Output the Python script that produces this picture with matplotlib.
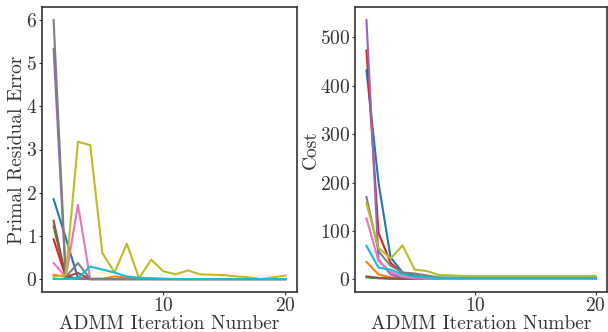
import numpy as np
import matplotlib.pyplot as plt

plt.rcParams['font.family'] = 'serif'
plt.rcParams['font.serif'] = ['cmr10']
plt.rcParams['mathtext.fontset'] = 'cm'
plt.rcParams['axes.formatter.use_mathtext'] = True

iters = np.arange(1, 21)

# primal residual error per agent, 10 runs (tab10 order)
residual = [
    [1.85, 0.95, 0.02, 0, 0, 0, 0, 0, 0, 0, 0, 0, 0, 0, 0, 0, 0, 0, 0, 0],                  # blue
    [0.1, 0.05, 0.01, 0.01, 0.01, 0.06, 0.03, 0.01, 0, 0, 0, 0, 0, 0, 0, 0, 0, 0, 0, 0],      # orange
    [1.22, 0.05, 0.01, 0, 0, 0, 0, 0, 0, 0, 0, 0, 0, 0, 0, 0, 0, 0, 0, 0],                   # green
    [0.92, 0.05, 0.01, 0, 0, 0, 0, 0, 0, 0, 0, 0, 0, 0, 0, 0, 0, 0, 0, 0],                   # red
    [5.33, 0.02, 0, 0, 0, 0, 0, 0, 0, 0, 0, 0, 0, 0, 0, 0, 0, 0, 0, 0],                      # purple
    [1.35, 0.05, 0.14, 0, 0, 0, 0, 0, 0, 0, 0, 0, 0, 0, 0, 0, 0, 0, 0, 0],                   # brown
    [0.37, 0.05, 1.72, 0, 0, 0, 0, 0, 0, 0, 0, 0, 0, 0, 0, 0, 0, 0, 0, 0],                   # pink
    [6.0, 0.05, 0.37, 0, 0, 0, 0, 0, 0, 0, 0, 0, 0, 0, 0, 0, 0, 0, 0, 0],                    # gray
    [0.05, 0.1, 3.18, 3.1, 0.6, 0.15, 0.82, 0.02, 0.45, 0.18, 0.11, 0.2, 0.11, 0.1, 0.09,
     0.06, 0.04, 0.0, 0.04, 0.08],                                                           # olive
    [0.0, 0.0, 0.02, 0.29, 0.22, 0.15, 0.06, 0.03, 0.02, 0.01, 0, 0, 0, 0, 0, 0, 0, 0, 0, 0],  # cyan
]

# total cost per run
cost = [
    [432, 200, 45, 14, 8, 4, 3, 3, 3, 3, 3, 3, 3, 3, 3, 3, 3, 3, 3, 3],
    [36, 10, 4, 2, 1, 1, 1, 1, 1, 1, 1, 1, 1, 1, 1, 1, 1, 1, 1, 1],
    [4, 2, 1, 1, 1, 1, 1, 1, 1, 1, 1, 1, 1, 1, 1, 1, 1, 1, 1, 1],
    [473, 96, 34, 12, 4, 3, 2, 2, 2, 2, 2, 2, 2, 2, 2, 2, 2, 2, 2, 2],
    [536, 41, 10, 3, 2, 1, 1, 1, 1, 1, 1, 1, 1, 1, 1, 1, 1, 1, 1, 1],
    [6, 3, 2, 1, 1, 1, 1, 1, 1, 1, 1, 1, 1, 1, 1, 1, 1, 1, 1, 1],
    [126, 38, 15, 5, 2, 1, 1, 0.5, 0.5, 0.5, 0.5, 0.5, 0.5, 0.5, 0.5, 0.5, 0.5, 0.5, 0.5, 0.5],
    [170, 58, 28, 14, 12, 8, 4, 3, 3, 3, 3, 3, 3, 3, 3, 3, 3, 3, 3, 3],
    [157, 65, 43, 70, 20, 17, 9, 8, 7, 7, 7, 7, 7, 7, 7, 7, 7, 7, 7, 7],
    [69, 24, 20, 10, 6, 4, 3, 3, 3, 3, 3, 3, 3, 3, 3, 3, 3, 3, 3, 3],
]

fig = plt.figure(figsize=(6.08, 3.32), dpi=100)
ax1 = fig.add_axes([42 / 608, 40 / 332, 255 / 608, 285 / 332])
ax2 = fig.add_axes([355 / 608, 40 / 332, 252 / 608, 285 / 332])

colors = plt.cm.tab10.colors
for i in range(10):
    ax1.plot(iters, residual[i], color=colors[i], lw=1.5)
    ax2.plot(iters, cost[i], color=colors[i], lw=1.5)

ax1.set_ylabel('Primal Residual Error', fontsize=14, color='#333333', labelpad=0)
ax2.set_ylabel('Cost', fontsize=14, color='#333333', labelpad=0)
for ax in (ax1, ax2):
    ax.set_xlabel('ADMM Iteration Number', fontsize=14, color='#333333', labelpad=0)
    ax.set_xticks([10, 20])
    ax.tick_params(labelsize=14, colors='#333333', length=2.5, width=0.8, pad=1)
    for s in ax.spines.values():
        s.set_color('#333333')
        s.set_linewidth(1.2)
ax1.set_yticks(range(0, 7))
ax2.set_yticks(range(0, 501, 100))

fig.savefig('out.png', dpi=100)
